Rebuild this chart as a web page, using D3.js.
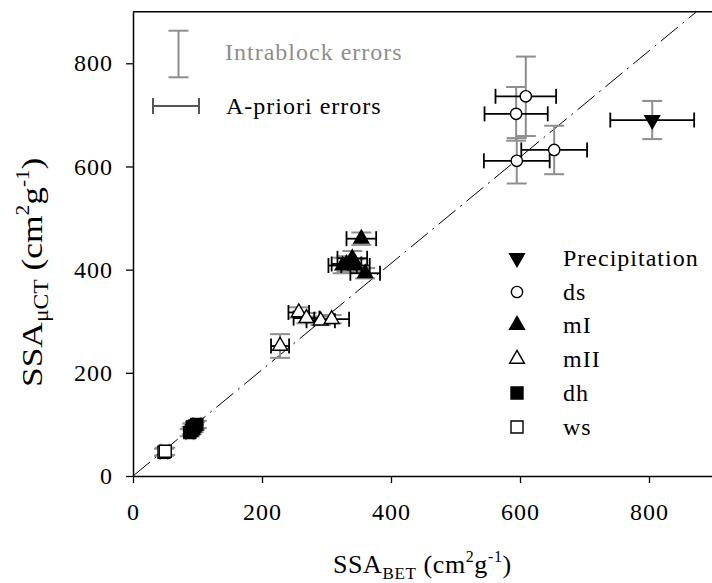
<!DOCTYPE html>
<html><head><meta charset="utf-8">
<script src="https://cdn.jsdelivr.net/npm/d3@7"></script>
<style>body{margin:0;background:#fff} svg text{font-family:"Liberation Serif","Times New Roman",serif}</style>
</head><body><svg id="c" width="712" height="583"></svg>
<script>
// ---- data ----
const axisTicks = [0, 200, 400, 600, 800];
const precipBET = [805], precipCT = [690], precipXErr = [65], precipYErr = [37];
const dsBET = [609, 594, 653, 595], dsCT = [736, 702, 632, 611], dsXErr = [47, 49, 51, 51], dsYErr = [77, 52, 47, 44];
const mIBET = [354, 340, 331, 345, 360, 325], mICT = [460, 422, 411, 408, 393, 408], mIXErr = [23, 23, 23, 22, 23, 22], mIYErr = [12, 14, 15, 12, 10, 15];
const mIIBET = [228, 257, 269, 291, 308], mIICT = [252, 317, 306, 301, 304], mIIXErr = [14, 16, 20, 22, 27], mIIYErr = [23, 10, 10, 8, 8];
const dhBET = [88, 91, 94, 96, 99, 92], dhCT = [84, 88, 92, 97, 100, 95], dhXErr = [6, 6, 6, 6, 6, 6], dhYErr = [7, 7, 7, 7, 7, 7];
const wsBET = [48, 50], wsCT = [46, 48], wsXErr = [6, 6], wsYErr = [7, 7];
const fitSlope = 1.03;
const legendNames = ["Precipitation", "ds", "mI", "mII", "dh", "ws"];
const errorLegend = ["Intrablock errors", "A-priori errors"];

// ---- layout ----
const svg = d3.select("#c");
const L = 133, R = 713.5, T = 11.7, B = 476;
const x = d3.scaleLinear().domain([0, 900]).range([L, R]);
const y = d3.scaleLinear().domain([0, 900]).range([B, T]);
const gray = "#8e8e8e";

const series = [
  {bet: precipBET, ct: precipCT, xe: precipXErr, ye: precipYErr, sym: d3.symbolTriangle, size: 95, rot: 180, fill: "#000", xc: "#000"},
  {bet: dsBET, ct: dsCT, xe: dsXErr, ye: dsYErr, sym: d3.symbolCircle, size: 100, rot: 0, fill: "#fff", xc: "#000"},
  {bet: mIBET, ct: mICT, xe: mIXErr, ye: mIYErr, sym: d3.symbolTriangle, size: 95, rot: 0, fill: "#000", xc: "#000"},
  {bet: mIIBET, ct: mIICT, xe: mIIXErr, ye: mIIYErr, sym: d3.symbolTriangle, size: 95, rot: 0, fill: "#fff", xc: "#000"},
  {bet: dhBET, ct: dhCT, xe: dhXErr, ye: dhYErr, sym: d3.symbolSquare, size: 144, rot: 0, fill: "#000", xc: gray},
  {bet: wsBET, ct: wsCT, xe: wsXErr, ye: wsYErr, sym: d3.symbolSquare, size: 144, rot: 0, fill: "#fff", xc: gray}
];

// frame
svg.append("line").attr("x1", L).attr("x2", R).attr("y1", T).attr("y2", T).attr("stroke", "#000").attr("stroke-width", 1.5);
svg.append("line").attr("x1", R).attr("x2", R).attr("y1", T).attr("y2", B).attr("stroke", "#000").attr("stroke-width", 1.5);

// axes
const xAxis = svg.append("g").attr("transform", `translate(0,${B})`)
  .call(d3.axisBottom(x).tickValues(axisTicks).tickSize(7).tickPadding(6).tickSizeOuter(0));
const yAxis = svg.append("g").attr("transform", `translate(${L},0)`)
  .call(d3.axisLeft(y).tickValues(axisTicks).tickSize(7).tickPadding(13).tickSizeOuter(0));
[xAxis, yAxis].forEach(g => {
  g.select(".domain").attr("stroke-width", 1.5);
  g.selectAll(".tick line").attr("stroke-width", 1.3);
  g.selectAll("text").attr("font-size", 24).attr("letter-spacing", 1).attr("fill", "#000");
});
xAxis.selectAll("text").attr("dy", "1.29em");

// fit line
svg.append("line").attr("x1", x(0)).attr("y1", y(0)).attr("x2", x(900 / fitSlope)).attr("y2", y(900))
  .attr("stroke", "#000").attr("stroke-width", 1).attr("stroke-dasharray", "22,6,2,6");

// error bars
const eb = svg.append("g");
series.forEach(s => {
  s.bet.forEach((b, i) => {
    const cx = x(b);
    const y1 = y(s.ct[i] - s.ye[i]), y2 = y(s.ct[i] + s.ye[i]);
    eb.append("line").attr("x1", cx).attr("x2", cx).attr("y1", y1).attr("y2", y2).attr("stroke", gray).attr("stroke-width", 2);
    [y1, y2].forEach(yy => eb.append("line").attr("x1", cx - 10).attr("x2", cx + 10).attr("y1", yy).attr("y2", yy).attr("stroke", gray).attr("stroke-width", 2));
  });
});
series.forEach(s => {
  s.bet.forEach((b, i) => {
    const cy = y(s.ct[i]);
    const x1 = x(b - s.xe[i]), x2 = x(b + s.xe[i]);
    eb.append("line").attr("x1", x1).attr("x2", x2).attr("y1", cy).attr("y2", cy).attr("stroke", s.xc).attr("stroke-width", 1.8);
    [x1, x2].forEach(xx => eb.append("line").attr("x1", xx).attr("x2", xx).attr("y1", cy - 7.5).attr("y2", cy + 7.5).attr("stroke", s.xc).attr("stroke-width", 1.8));
  });
});

// markers
const mk = svg.append("g");
series.forEach(s => {
  s.bet.forEach((b, i) => {
    mk.append("path").attr("d", d3.symbol().type(s.sym).size(s.size)())
      .attr("transform", `translate(${x(b)},${y(s.ct[i])}) rotate(${s.rot})`)
      .attr("fill", s.fill).attr("stroke", "#000").attr("stroke-width", 1.4);
  });
});

// right legend
const legY = [258, 292, 325, 359, 393, 427];
series.forEach((s, i) => {
  svg.append("path").attr("d", d3.symbol().type(s.sym).size(s.size)())
    .attr("transform", `translate(517,${legY[i]}) rotate(${s.rot})`)
    .attr("fill", s.fill).attr("stroke", "#000").attr("stroke-width", 1.4);
  svg.append("text").attr("x", 563).attr("y", legY[i]).attr("dy", "0.35em")
    .attr("font-size", 24).attr("letter-spacing", 1).text(legendNames[i]);
});

// error legend
svg.append("line").attr("x1", 178.5).attr("x2", 178.5).attr("y1", 30.7).attr("y2", 77.3).attr("stroke", gray).attr("stroke-width", 2);
[30.7, 77.3].forEach(yy => svg.append("line").attr("x1", 168.5).attr("x2", 188.5).attr("y1", yy).attr("y2", yy).attr("stroke", gray).attr("stroke-width", 2));
svg.append("text").attr("x", 225).attr("y", 60).attr("font-size", 24).attr("letter-spacing", 1).attr("fill", gray).text(errorLegend[0]);
svg.append("line").attr("x1", 153).attr("x2", 199).attr("y1", 106).attr("y2", 106).attr("stroke", "#555").attr("stroke-width", 2);
[153, 199].forEach(xx => svg.append("line").attr("x1", xx).attr("x2", xx).attr("y1", 98).attr("y2", 114).attr("stroke", "#555").attr("stroke-width", 2));
svg.append("text").attr("x", 226).attr("y", 114).attr("font-size", 24).attr("letter-spacing", 1).attr("fill", "#000").text(errorLegend[1]);

// x title
const xt = svg.append("text").attr("x", 333).attr("y", 573).attr("font-size", 26).attr("letter-spacing", 0.6);
xt.append("tspan").text("SSA");
xt.append("tspan").attr("font-size", 17).attr("dy", 6).text("BET");
xt.append("tspan").attr("dy", -6).text(" (cm");
xt.append("tspan").attr("font-size", 16).attr("dy", -11).text("2");
xt.append("tspan").attr("dy", 11).text("g");
xt.append("tspan").attr("font-size", 16).attr("dy", -11).text("-1");
xt.append("tspan").attr("dy", 11).text(")");

// y title (stretched along its reading direction as in the reference)
const yt = svg.append("text").attr("transform", "translate(42,387) rotate(-90) scale(1.18,1)").attr("font-size", 30);
yt.append("tspan").text("SSA");
yt.append("tspan").attr("font-size", 20).attr("dy", 6).text("μCT");
yt.append("tspan").attr("dy", -6).text(" (cm");
yt.append("tspan").attr("font-size", 18).attr("dy", -13).text("2");
yt.append("tspan").attr("dy", 13).text("g");
yt.append("tspan").attr("font-size", 18).attr("dy", -13).text("-1");
yt.append("tspan").attr("dy", 13).text(")");
</script></body></html>
